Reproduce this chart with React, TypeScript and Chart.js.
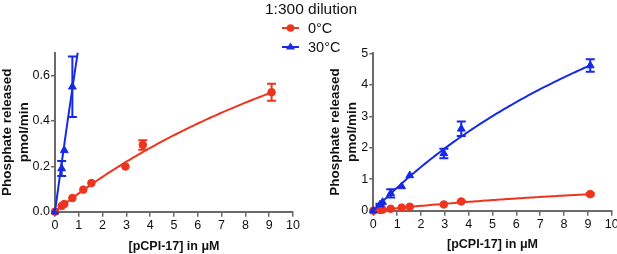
import React, { useEffect, useRef } from "react";
import { Chart, registerables } from "chart.js";

Chart.register(...registerables);

// ---- data ----
const CONC_0C = [0, 0.28, 0.39, 0.73, 1.19, 1.53, 2.96, 3.69, 9.1];
const RATE_0C = [0, 0.025, 0.034, 0.06, 0.097, 0.126, 0.199, 0.294, 0.526];
const ERR_0C = [0, 0, 0, 0, 0, 0, 0, 0.021, 0.037];

const CONC_30C = [0, 0.28, 0.39, 0.73, 1.19, 1.53, 2.96, 3.69, 9.1];
const RATE_30C = [0, 0.19, 0.27, 0.55, 0.77, 1.12, 1.82, 2.6, 4.61];
const ERR_30C = [0, 0.033, 0, 0.133, 0, 0, 0.15, 0.23, 0.2];

// Michaelis-Menten fit parameters
const FIT_0C = { vmax: 1.65, km: 19.5 };
const FIT_30C = { vmax: 13.4, km: 17.3 };
const FIT_X_MAX = 9.1;

const X_TICKS = [0, 1, 2, 3, 4, 5, 6, 7, 8, 9, 10];
const Y_TICKS_LEFT = [0, 0.2, 0.4, 0.6];
const Y_TICKS_RIGHT = [0, 1, 2, 3, 4, 5];

const LEGEND_TITLE = "1:300 dilution";
const LEGEND_LABELS = ["0°C", "30°C"];

const RED = "rgb(238,52,30)";
const BLUE = "rgb(22,42,228)";
const AXIS = "#6a6a6a";
const FONT = "'Liberation Sans', Arial, sans-serif";

function fitCurve(p: { vmax: number; km: number }) {
  const pts: { x: number; y: number }[] = [];
  const n = 91;
  for (let i = 0; i <= n; i++) {
    const x = (FIT_X_MAX * i) / n;
    pts.push({ x, y: (p.vmax * x) / (p.km + x) });
  }
  return pts;
}

const errorBarPlugin = {
  id: "errorBars",
  afterDatasetsDraw(chart: any) {
    const ctx = chart.ctx;
    const xs = chart.scales.x;
    const ys = chart.scales.y;
    chart.data.datasets.forEach((ds: any) => {
      if (!ds.errors) return;
      ctx.save();
      ctx.strokeStyle = ds.borderColor;
      ctx.lineWidth = 2;
      ds.data.forEach((pt: any, j: number) => {
        const e = ds.errors[j];
        if (!e) return;
        const px = xs.getPixelForValue(pt.x);
        const top = ys.getPixelForValue(pt.y + e);
        const bot = ys.getPixelForValue(pt.y - e);
        const cap = 4.5;
        ctx.beginPath();
        ctx.moveTo(px, top);
        ctx.lineTo(px, bot);
        ctx.moveTo(px - cap, top);
        ctx.lineTo(px + cap, top);
        ctx.moveTo(px - cap, bot);
        ctx.lineTo(px + cap, bot);
        ctx.stroke();
      });
      ctx.restore();
    });
  },
};

function buildConfig(opts: {
  yMax: number;
  yTicks: number[];
  yDecimals: number;
  yAxisWidth: number;
  xAxisHeight: number;
  padTop: number;
  padRight: number;
  yTitlePad: number;
  xTitlePad: number;
}) {
  const pts = (xs: number[], ys: number[]) => xs.map((x, i) => ({ x, y: ys[i] }));
  return {
    type: "scatter",
    data: {
      datasets: [
        {
          type: "line",
          data: fitCurve(FIT_30C),
          borderColor: BLUE,
          borderWidth: 2,
          pointRadius: 0,
          fill: false,
          tension: 0,
        },
        {
          type: "line",
          data: fitCurve(FIT_0C),
          borderColor: RED,
          borderWidth: 2,
          pointRadius: 0,
          fill: false,
          tension: 0,
        },
        {
          data: pts(CONC_30C, RATE_30C),
          errors: ERR_30C,
          borderColor: BLUE,
          backgroundColor: BLUE,
          pointStyle: "triangle",
          pointRadius: 4.5,
          pointBorderWidth: 1,
          showLine: false,
          clip: false,
        },
        {
          data: pts(CONC_0C, RATE_0C),
          errors: ERR_0C,
          borderColor: RED,
          backgroundColor: RED,
          pointStyle: "circle",
          pointRadius: 3.8,
          pointBorderWidth: 1,
          showLine: false,
          clip: false,
        },
      ],
    },
    options: {
      animation: false,
      responsive: false,
      maintainAspectRatio: false,
      layout: { padding: { top: opts.padTop, right: opts.padRight, left: 0, bottom: 0 } },
      plugins: { legend: { display: false }, tooltip: { enabled: false } },
      scales: {
        x: {
          type: "linear",
          min: 0,
          max: 10,
          afterBuildTicks: (s: any) => {
            s.ticks = X_TICKS.map((v) => ({ value: v }));
          },
          afterFit: (s: any) => {
            s.height = opts.xAxisHeight;
          },
          ticks: {
            color: "#111",
            font: { family: FONT, size: 12.5 },
            padding: 1,
            maxRotation: 0,
            autoSkip: false,
            callback: (v: any) => String(v),
          },
          grid: {
            display: true,
            drawOnChartArea: false,
            drawTicks: true,
            tickLength: 5,
            color: AXIS,
            lineWidth: 1.5,
          },
          border: { display: true, color: AXIS, width: 2 },
          title: {
            display: true,
            text: "[pCPI-17] in μM",
            color: "#111",
            font: { family: FONT, size: 12.5, weight: "bold", lineHeight: 1.25 },
            padding: { top: 0, bottom: opts.xTitlePad },
          },
        },
        y: {
          type: "linear",
          min: 0,
          max: opts.yMax,
          afterBuildTicks: (s: any) => {
            s.ticks = opts.yTicks.map((v) => ({ value: v }));
          },
          afterFit: (s: any) => {
            s.width = opts.yAxisWidth;
          },
          ticks: {
            color: "#111",
            font: { family: FONT, size: 12.5 },
            padding: 1,
            autoSkip: false,
            callback: (v: any) => Number(v).toFixed(opts.yDecimals),
          },
          grid: {
            display: true,
            drawOnChartArea: false,
            drawTicks: true,
            tickLength: 4,
            color: AXIS,
            lineWidth: 1.5,
          },
          border: { display: true, color: AXIS, width: 2 },
          title: {
            display: true,
            text: ["Phosphate released", "pmol/min"],
            color: "#111",
            font: { family: FONT, size: 13.5, weight: "bold", lineHeight: 1.22 },
            padding: { top: opts.yTitlePad, bottom: 0 },
          },
        },
      },
    },
    plugins: [errorBarPlugin],
  } as any;
}

function Panel(props: { left: number; width: number; cfg: any }) {
  const ref = useRef<HTMLCanvasElement | null>(null);
  useEffect(() => {
    if (!ref.current) return;
    const chart = new Chart(ref.current, props.cfg);
    return () => chart.destroy();
  }, []);
  return (
    <canvas
      ref={ref}
      width={props.width}
      height={254}
      style={{ position: "absolute", left: props.left, top: 0, width: props.width, height: 254 }}
    />
  );
}

function Legend() {
  const textStyle: React.CSSProperties = {
    position: "absolute",
    fontFamily: FONT,
    fontSize: 14.5,
    color: "#111",
    whiteSpace: "nowrap",
    lineHeight: "16px",
  };
  return (
    <>
      <div style={{ ...textStyle, left: 265, top: 1, fontSize: 15.5 }}>{LEGEND_TITLE}</div>
      <svg style={{ position: "absolute", left: 280, top: 20 }} width={24} height={36}>
        <line x1={2} y1={8} x2={19} y2={8} stroke={RED} strokeWidth={2} />
        <circle cx={10.5} cy={8} r={3.8} fill={RED} />
        <line x1={2} y1={27} x2={19} y2={27} stroke={BLUE} strokeWidth={2} />
        <polygon points="10.5,22.5 15,29.5 6,29.5" fill={BLUE} />
      </svg>
      <div style={{ ...textStyle, left: 308, top: 20 }}>{LEGEND_LABELS[0]}</div>
      <div style={{ ...textStyle, left: 308, top: 39 }}>{LEGEND_LABELS[1]}</div>
    </>
  );
}

export default function App() {
  const leftCfg = buildConfig({
    yMax: 0.7,
    yTicks: Y_TICKS_LEFT,
    yDecimals: 1,
    yAxisWidth: 55,
    xAxisHeight: 42.3,
    padTop: 52.7,
    padRight: 12,
    yTitlePad: -0.5,
    xTitlePad: 0,
  });
  const rightCfg = buildConfig({
    yMax: 5,
    yTicks: Y_TICKS_RIGHT,
    yDecimals: 0,
    yAxisWidth: 68.3,
    xAxisHeight: 43.3,
    padTop: 53.3,
    padRight: 13.3,
    yTitlePad: 22.5,
    xTitlePad: 2,
  });
  return (
    <div
      style={{
        position: "absolute",
        left: 0,
        top: 0,
        width: 617,
        height: 254,
        overflow: "hidden",
        background: "#fff",
      }}
    >
      <Panel left={0} width={305} cfg={leftCfg} />
      <Panel left={305} width={320} cfg={rightCfg} />
      <Legend />
    </div>
  );
}
